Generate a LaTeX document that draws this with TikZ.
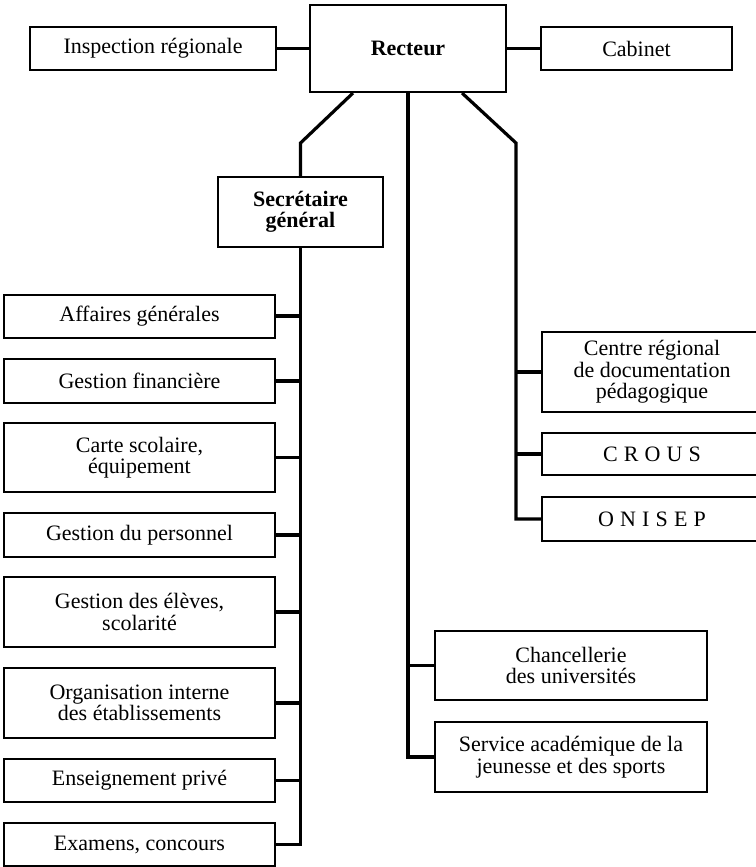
\documentclass[tikz,border=0pt]{standalone}
\usepackage{fontspec}
\setmainfont{Liberation Serif}
\begin{document}
\begin{tikzpicture}[x=1pt,y=-1pt,
  box/.style={draw, line width=2pt, inner sep=0pt, align=center,
    font=\fontsize{22}{21.5}\selectfont},
  conn/.style={line width=3.2pt}]
\useasboundingbox (0,0) rectangle (755,867);
% top row
\node[box, minimum width=246pt, minimum height=43pt] (insp) at (153,48.5) {Inspection régionale};
\node[box, minimum width=196pt, minimum height=87pt] (rect) at (408,48.5) {\textbf{Recteur}};
\node[box, minimum width=191pt, minimum height=43pt] (cab) at (636.5,48.5) {Cabinet};
\node[box, minimum width=165pt, minimum height=70pt] (sec) at (300.5,212) {\textbf{Secrétaire}\\\textbf{général}};
% left column
\node[box, minimum width=271pt, minimum height=43pt] (aff) at (139.5,316) {Affaires générales};
\node[box, minimum width=271pt, minimum height=44pt] (fin) at (139.5,381) {Gestion financière};
\node[box, minimum width=271pt, minimum height=69pt] (carte) at (139.5,457.5) {Carte scolaire,\\équipement};
\node[box, minimum width=271pt, minimum height=44pt] (pers) at (139.5,535) {Gestion du personnel};
\node[box, minimum width=271pt, minimum height=70pt] (eleves) at (139.5,612) {Gestion des élèves,\\scolarité};
\node[box, minimum width=271pt, minimum height=70pt] (org) at (139.5,703) {Organisation interne\\des établissements};
\node[box, minimum width=271pt, minimum height=43pt] (priv) at (139.5,780.5) {Enseignement privé};
\node[box, minimum width=271pt, minimum height=43pt] (exam) at (139.5,844.5) {Examens, concours};
% right column
\node[box, minimum width=220pt, minimum height=80pt] (crdp) at (652,372) {Centre régional\\de documentation\\pédagogique};
\node[box, minimum width=220pt, minimum height=42pt] (crous) at (652,454) {\addfontfeature{LetterSpace=28}CROUS};
\node[box, minimum width=220pt, minimum height=44pt] (onisep) at (652,519) {\addfontfeature{LetterSpace=28}ONISEP};
% middle column
\node[box, minimum width=272pt, minimum height=69pt] (chanc) at (571,665.5) {Chancellerie\\des universités};
\node[box, minimum width=272pt, minimum height=70pt] (serv) at (571,757) {Service académique de la\\jeunesse et des sports};
% connectors
\draw[conn] (insp) -- (rect);
\draw[conn] (rect) -- (cab);
\coordinate (lb) at (300.5,143);
\coordinate (rb) at (516,143);
\draw[conn] ([xshift=-55pt]rect.south) -- (lb) -- (sec.north);
\draw[conn] (sec.south) -- (sec.south |- exam.east) -- (exam.east);
\foreach \n in {aff,fin,carte,pers,eleves,org,priv}
  \draw[conn] (\n.east) -- (\n.east -| sec.south);
\draw[conn] (rect.south) -- (rect.south |- serv.west) -- (serv.west);
\draw[conn] (chanc.west) -- (chanc.west -| rect.south);
\draw[conn] ([xshift=54pt]rect.south) -- (rb) -- (rb |- onisep.west) -- (onisep.west);
\draw[conn] (crdp.west) -- (crdp.west -| rb);
\draw[conn] (crous.west) -- (crous.west -| rb);
\end{tikzpicture}
\end{document}
